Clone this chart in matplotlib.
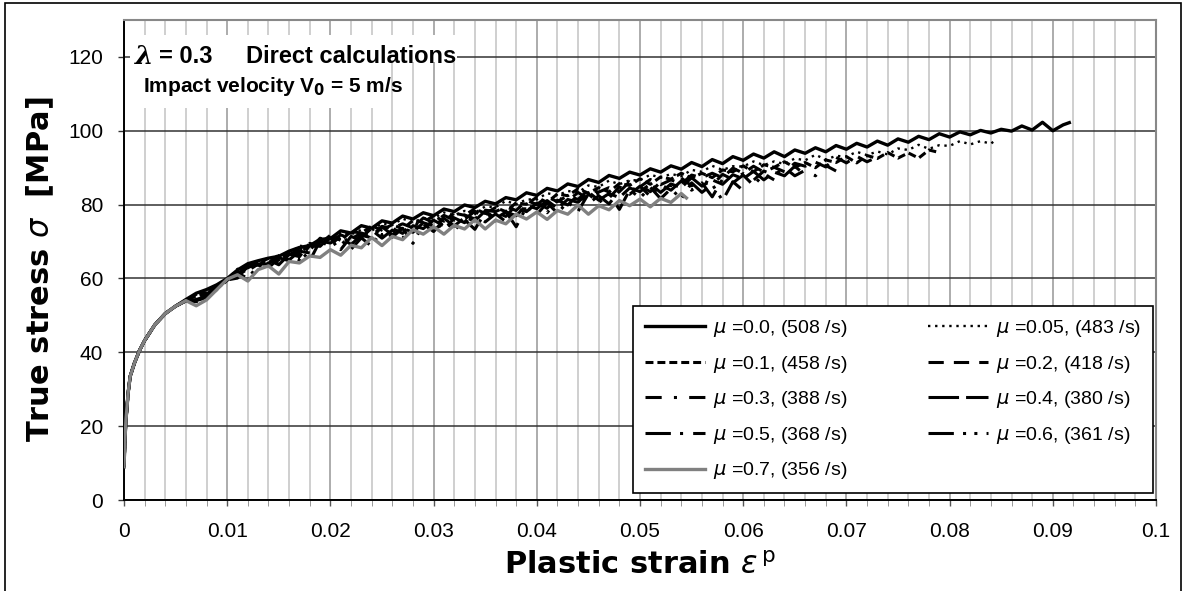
import matplotlib
matplotlib.use('Agg')
import matplotlib.pyplot as plt
from matplotlib.patches import Rectangle
from matplotlib.ticker import MultipleLocator
import numpy as np

plt.rcParams['font.family'] = ['Liberation Sans', 'DejaVu Sans']
plt.rcParams['mathtext.fontset'] = 'dejavusans'

# ---- data ----
# common elastic-plastic start of every curve
init_strain = [0, 0.0001, 0.0002, 0.0004, 0.0006, 0.001, 0.0015, 0.002, 0.003, 0.004, 0.005]
init_stress = [9, 17, 22, 29, 33.5, 37, 40.5, 43.2, 47.5, 50.5, 52.5]

# after the start, stress is sampled every 0.001 of strain from 0.006
grid_start = 0.006
grid_step = 0.001

mu_values = ['0.0', '0.05', '0.1', '0.2', '0.3', '0.4', '0.5', '0.6', '0.7']
strain_rates = [508, 483, 458, 418, 388, 380, 368, 361, 356]

stress_mu00 = [54.3, 56.0, 57.0, 58.3, 60.0, 62.3, 64.0, 64.8, 65.5, 66.0, 67.4, 68.4, 68.9, 70.6, 70.8,
               72.9, 72.3, 74.3, 73.6, 75.6, 75.0, 76.9, 76.1, 77.8, 77.0, 78.8, 78.1, 79.9, 79.2, 80.9,
               80.2, 81.9, 81.3, 83.2, 82.5, 84.4, 83.7, 85.6, 84.9, 86.8, 86.0, 87.9, 87.1, 88.8, 88.0,
               89.7, 88.8, 90.5, 89.6, 91.4, 90.3, 92.2, 91.1, 93.0, 92.0, 93.7, 92.6, 94.3, 93.0, 94.8,
               93.9, 95.4, 94.3, 96.0, 95.0, 96.6, 95.6, 97.2, 96.1, 97.8, 96.9, 98.5, 97.6, 99.2, 98.3,
               99.7, 98.9, 100.1, 99.4, 100.4, 99.9, 101.3, 100.2, 102.3, 100.0, 101.6]
stress_mu005 = [54.2, 55.6, 56.6, 58.0, 59.8, 62.6, 63.1, 64.6, 64.3, 66.3, 66.6, 68.9, 68.4, 70.1, 70.5,
                72.4, 71.9, 73.2, 72.9, 74.9, 74.5, 76.2, 75.2, 76.3, 76.3, 77.9, 77.1, 78.3, 77.8, 79.5,
                79.3, 81.0, 80.1, 81.4, 81.4, 83.1, 82.5, 83.7, 83.3, 85.2, 84.8, 86.5, 85.5, 86.6, 86.6,
                88.1, 87.3, 88.3, 87.7, 89.4, 88.9, 90.5, 89.4, 90.4, 90.3, 91.7, 90.7, 91.7, 91.0, 92.5,
                92.0, 93.5, 92.2, 93.2, 93.0, 94.3, 93.4, 94.4, 93.6, 95.2, 94.8, 96.2, 95.1, 96.1, 95.9,
                97.2, 96.3, 97.2, 96.5]
stress_mu01 = [54.0, 55.3, 56.2, 57.8, 59.7, 61.3, 63.8, 64.1, 65.5, 65.0, 67.1, 66.6, 69.4, 69.5, 71.7,
               70.3, 72.7, 72.3, 74.2, 73.1, 74.6, 73.4, 75.7, 75.2, 77.0, 75.5, 77.7, 77.1, 78.9, 77.6,
               79.2, 78.1, 80.5, 80.1, 82.0, 80.6, 82.9, 82.4, 84.3, 83.1, 84.6, 83.4, 85.7, 85.2, 87.0,
               85.5, 87.5, 86.9, 88.5, 87.2, 88.5, 87.3, 89.4, 88.9, 90.5, 88.9, 90.8, 90.1, 91.6, 90.1,
               91.4, 90.0, 92.1, 91.4, 93.0, 91.3, 93.3, 92.5, 94.1, 92.6, 94.0, 92.6, 94.8, 94.1]
stress_mu02 = [54.1, 55.0, 55.8, 57.6, 59.6, 62.1, 62.9, 64.2, 64.1, 66.2, 66.3, 68.2, 67.6, 70.9, 70.0,
               71.8, 70.7, 72.3, 71.5, 74.1, 73.6, 74.8, 73.7, 76.4, 75.1, 77.1, 75.8, 77.2, 76.1, 78.5,
               78.1, 79.4, 78.4, 81.2, 80.0, 82.1, 80.8, 82.4, 81.4, 84.0, 83.4, 84.6, 83.5, 86.2, 84.8,
               86.8, 85.4, 86.7, 85.6, 88.0, 87.3, 88.5, 87.3, 89.9, 88.5, 90.4, 88.8, 90.1, 88.9, 91.2,
               90.4, 91.5, 90.2, 92.8, 91.3, 93.1, 91.6, 92.9]
stress_mu03 = [53.9, 54.6, 55.5, 57.5, 59.8, 60.7, 63.5, 63.6, 65.2, 64.2, 66.6, 65.9, 69.5, 68.8, 71.0,
               68.9, 71.8, 71.1, 73.6, 71.8, 73.6, 72.2, 75.3, 74.0, 75.8, 74.2, 76.9, 76.0, 78.2, 76.2,
               78.0, 76.8, 79.9, 78.7, 80.5, 79.0, 81.8, 81.0, 83.3, 81.4, 83.1, 81.8, 84.8, 83.5, 85.2,
               83.5, 86.1, 85.1, 87.2, 85.1, 86.7, 85.3, 88.2, 86.8, 88.4, 86.6, 89.1, 88.0, 90.0, 87.8,
               89.3, 87.8, 90.6, 89.1]
stress_mu04 = [54.0, 54.3, 55.2, 57.3, 59.7, 61.7, 62.1, 63.9, 63.9, 66.5, 65.0, 67.4, 66.9, 70.1, 69.6,
               71.1, 69.2, 71.7, 71.0, 74.0, 71.8, 73.6, 72.5, 75.1, 74.2, 76.3, 74.2, 76.5, 75.6, 78.3,
               76.2, 78.0, 77.0, 79.8, 78.9, 81.1, 79.0, 81.4, 80.6, 83.4, 81.2, 83.0, 81.9, 84.5, 83.5,
               85.6, 83.3, 85.6, 84.6, 87.3, 85.0, 86.7, 85.5, 88.1, 87.0, 89.0, 86.7, 88.8, 87.8, 90.4,
               88.0]
stress_mu05 = [53.8, 54.0, 54.8, 57.2, 59.6, 60.1, 63.3, 63.2, 65.0, 63.7, 66.5, 65.0, 69.0, 68.7, 71.4,
               67.8, 71.4, 70.2, 73.1, 70.9, 73.1, 70.9, 74.3, 73.5, 75.7, 73.1, 76.4, 75.1, 77.7, 75.3,
               77.5, 75.4, 78.9, 78.1, 80.4, 77.8, 81.2, 79.9, 82.6, 80.3, 82.4, 80.2, 83.7, 82.8, 85.0,
               82.2, 85.4, 83.9, 86.4, 83.9, 85.9, 82.1, 86.9, 85.9, 88.0, 85.2, 88.3, 86.7]
stress_mu06 = [53.9, 53.7, 54.6, 57.0, 59.5, 61.5, 60.0, 63.6, 62.8, 65.6, 64.8, 67.9, 64.8, 70.2, 68.5,
               70.5, 67.9, 71.0, 68.7, 73.5, 71.2, 73.6, 69.5, 74.8, 72.7, 75.8, 73.0, 75.9, 73.3, 77.9,
               75.6, 78.1, 74.0, 79.4, 77.3, 80.5, 77.7, 80.7, 78.2, 82.9, 80.5, 82.9, 78.7, 84.0, 81.8,
               84.7, 81.6, 84.3, 81.5, 85.9, 83.3, 85.5, 81.1, 86.2, 83.8]
stress_mu07 = [54.0, 52.6, 54.2, 57.0, 59.8, 61.0, 59.3, 62.4, 63.4, 61.2, 64.6, 64.2, 66.1, 65.7, 67.8,
               66.3, 69.0, 68.3, 71.1, 68.9, 71.4, 70.5, 73.2, 72.0, 74.0, 72.0, 74.4, 73.4, 75.9, 73.4,
               75.8, 74.8, 77.4, 76.1, 78.0, 76.0, 78.4, 77.4, 79.9, 77.4, 79.7, 78.6, 81.1, 79.7, 81.5,
               79.4, 81.7, 80.6, 83.0]

# last point of the curves that stop between grid samples: (index, strain, stress)
end_points = [(0, 0.0916, 102.2), (1, 0.0845, 97.6), (8, 0.0545, 81.8)]

x_ticklabels = ['0', '0.01', '0.02', '0.03', '0.04', '0.05', '0.06', '0.07', '0.08', '0.09', '0.1']
y_ticks = [0, 20, 40, 60, 80, 100, 120]

all_stress = [stress_mu00, stress_mu005, stress_mu01, stress_mu02, stress_mu03,
              stress_mu04, stress_mu05, stress_mu06, stress_mu07]

# ---- styles ----
colors = ['black'] * 8 + ['#808080']
widths = [2.4, 1.7, 2.2, 2.2, 2.2, 2.2, 2.2, 2.2, 2.4]
dashes = ['-', (0, (1, 2)), (0, (2.6, 1.3)), (0, (5, 3.3)), (0, (5.3, 4, 1, 4)),
          (0, (10, 2.3)), (0, (8.3, 3, 1, 3.3)), (0, (8.3, 3, 1, 2.7, 1, 3)), '-']

W, H = 1184, 591
fig = plt.figure(figsize=(W / 100, H / 100), dpi=100)
ax = fig.add_axes([124 / W, 1 - 500 / H, 1032 / W, 480 / H])

lines = []
for i, ys in enumerate(all_stress):
    xs = list(init_strain) + list(np.round(grid_start + grid_step * np.arange(len(ys)), 4))
    yv = list(init_stress) + list(ys)
    for j, ex, ey in end_points:
        if j == i:
            xs.append(ex)
            yv.append(ey)
    lab = rf'$\mu$ ={mu_values[i]}, ({strain_rates[i]} /s)'
    ln, = ax.plot(xs, yv, color=colors[i], lw=widths[i], linestyle=dashes[i],
                  label=lab, solid_joinstyle='round', zorder=3)
    lines.append(ln)

ax.set_xlim(0, 0.1)
ax.set_ylim(0, 130)
ax.xaxis.set_minor_locator(MultipleLocator(0.002))
ax.set_xticks(np.linspace(0, 0.1, 11))
ax.set_xticklabels(x_ticklabels)
ax.set_yticks(y_ticks)

ax.set_axisbelow(True)
ax.grid(which='minor', axis='x', color='#cccccc', lw=1.3)
ax.grid(which='major', axis='x', color='#a6a6a6', lw=1.3)
ax.grid(which='major', axis='y', color='#333333', lw=1.1)

ax.tick_params(axis='both', which='major', labelsize=15, direction='out', length=4, width=1)
ax.tick_params(axis='x', which='major', pad=12, color='#555555')
ax.tick_params(axis='x', which='minor', length=4, color='#888888')
ax.tick_params(axis='y', pad=11, color='#333333')

for side in ['left', 'bottom']:
    ax.spines[side].set_color('black')
    ax.spines[side].set_linewidth(1.4)
for side in ['top', 'right']:
    ax.spines[side].set_color('#888888')
    ax.spines[side].set_linewidth(1.5)

ax.set_xlabel(r'Plastic strain $\varepsilon^{\,\mathrm{p}}$', fontsize=22, fontweight='bold',
              family='DejaVu Sans')
ax.set_ylabel(r'True stress $\sigma$  [MPa]', fontsize=22, fontweight='bold', family='DejaVu Sans')
ax.xaxis.set_label_coords(0.5, -0.105)
ax.yaxis.set_label_coords(-0.066, 0.48)

# white boxes behind the annotation
ax.add_patch(Rectangle((0.006, 0.9125), 0.317, 0.057, transform=ax.transAxes,
                       facecolor='white', edgecolor='none', zorder=1.5))
ax.add_patch(Rectangle((0.006, 0.817), 0.245, 0.096, transform=ax.transAxes,
                       facecolor='white', edgecolor='none', zorder=1.5))
ax.text(0.011, 0.923, 'λ', transform=ax.transAxes, fontsize=19, fontweight='bold',
        fontstyle='italic', family='DejaVu Serif', va='center', zorder=4)
ax.text(0.034, 0.923, '= 0.3', transform=ax.transAxes, fontsize=17, fontweight='bold',
        va='center', zorder=4)
ax.text(0.118, 0.923, 'Direct calculations', transform=ax.transAxes, fontsize=17,
        fontweight='bold', va='center', zorder=4)
ax.text(0.018, 0.862, r'Impact velocity V$_\mathbf{0}$ = 5 m/s', transform=ax.transAxes,
        fontsize=15, fontweight='bold', va='center', zorder=4)

# legend: row order of the original (two columns)
order = [0, 2, 4, 6, 8, 1, 3, 5, 7]
leg = ax.legend([lines[k] for k in order], [lines[k].get_label() for k in order],
                ncol=2, loc='lower left', bbox_to_anchor=(0.4937, 0.0146, 0.503, 0.4),
                mode='expand', borderaxespad=0, fontsize=14, handlelength=3.1,
                handletextpad=0.4, columnspacing=2.0, labelspacing=0.75,
                fancybox=False, framealpha=1, edgecolor='black', borderpad=0.6)
leg.get_frame().set_linewidth(1.2)
leg.set_zorder(5)

# outer border of the picture
fig.patches.append(Rectangle((5 / W, -0.01), (1181 - 5) / W, 1.01 - 3 / H,
                             transform=fig.transFigure, fill=False, edgecolor='black', lw=1.2))

fig.savefig('out.png', dpi=100)
